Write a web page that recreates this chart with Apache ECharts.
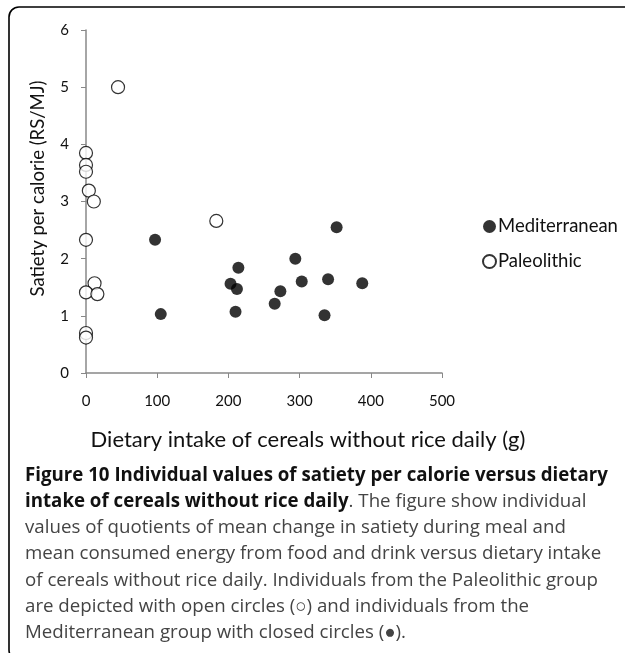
<!DOCTYPE html>
<html>
<head>
<meta charset="utf-8">
<script src="https://cdn.jsdelivr.net/npm/echarts@6/dist/echarts.min.js"></script>
<style>
  html, body { margin: 0; padding: 0; background: #fff; }
  #chart { width: 625px; height: 653px; }
</style>
</head>
<body>
<div id="chart"></div>
<script>
// cereals intake (g) vs satiety per calorie (RS/MJ)
const mediterraneanX = [97, 105, 203, 214, 212, 210, 265, 273, 294, 303, 335, 340, 352, 388]
const mediterraneanY = [2.33, 1.03, 1.56, 1.84, 1.47, 1.07, 1.21, 1.43, 2.0, 1.60, 1.01, 1.64, 2.55, 1.57]
const paleolithicX = [45, 0, 0, 0, 4, 11, 183, 0, 12, 0, 16, 0, 0]
const paleolithicY = [5.0, 3.85, 3.64, 3.52, 3.19, 3.0, 2.66, 2.33, 1.57, 1.41, 1.38, 0.70, 0.62]

const captionLines = [
  [['b', 'Figure 10 Individual values of satiety per calorie versus dietary']],
  [['b', 'intake of cereals without rice daily'], ['r', '. The figure show individual']],
  [['r', 'values of quotients of mean change in satiety during meal and']],
  [['r', 'mean consumed energy from food and drink versus dietary intake']],
  [['r', 'of cereals without rice daily. Individuals from the Paleolithic group']],
  [['r', 'are depicted with open circles (○) and individuals from the']],
  [['r', 'Mediterranean group with closed circles (●).']]
]

const chartFont = 'Lato'
const captionFont = 'Open Sans'

const pairs = (xs, ys) => xs.map((x, i) => [x, ys[i]])

const captionGraphics = captionLines.map((parts, i) => ({
  type: 'text',
  left: 25,
  top: 466 + i * 26.2,
  style: {
    text: parts.map(p => '{' + p[0] + '|' + p[1] + '}').join(''),
    rich: {
      b: { fontFamily: captionFont, fontWeight: 'bold', fontSize: 18.7, fill: '#111' },
      r: { fontFamily: captionFont, fontSize: 18.7, fill: '#444' }
    }
  }
}))

const chart = echarts.init(document.getElementById('chart'))
chart.setOption({
  animation: false,
  textStyle: { fontFamily: chartFont },
  grid: { left: 86, right: 183, top: 30, bottom: 280, containLabel: false },
  xAxis: {
    type: 'value',
    min: 0,
    max: 500,
    interval: 100,
    name: 'Dietary intake of cereals without rice daily (g)',
    nameLocation: 'middle',
    nameGap: 56,
    nameTextStyle: { fontSize: 22, color: '#111', padding: [0, 0, 0, 88] },
    axisLine: { lineStyle: { color: '#888', width: 1.5 } },
    axisTick: { show: true, length: 5, lineStyle: { color: '#888' } },
    axisLabel: { fontSize: 15, color: '#111', margin: 21 },
    splitLine: { show: false }
  },
  yAxis: {
    type: 'value',
    min: 0,
    max: 6,
    interval: 1,
    name: 'Satiety per calorie (RS/MJ)',
    nameLocation: 'middle',
    nameGap: 38,
    nameTextStyle: { fontSize: 18.5, color: '#111', padding: [0, 0, 0, 26] },
    axisLine: { show: true, lineStyle: { color: '#888', width: 1.5 } },
    axisTick: { show: true, length: 5, lineStyle: { color: '#888' } },
    axisLabel: { fontSize: 15, color: '#111', margin: 17 },
    splitLine: { show: false }
  },
  legend: {
    orient: 'vertical',
    left: 477,
    top: 212,
    itemWidth: 13,
    itemHeight: 13,
    itemGap: 16,
    textStyle: { fontSize: 18.5, color: '#111', padding: [0, 0, 0, -3] },
    data: [
      { name: 'Mediterranean', icon: 'circle' },
      { name: 'Paleolithic', icon: 'circle' }
    ]
  },
  series: [
    {
      name: 'Mediterranean',
      type: 'scatter',
      symbol: 'circle',
      symbolSize: 12,
      itemStyle: { color: '#000' },
      data: pairs(mediterraneanX, mediterraneanY)
    },
    {
      name: 'Paleolithic',
      type: 'scatter',
      symbol: 'circle',
      symbolSize: 13,
      itemStyle: { color: '#fff', borderColor: '#000', borderWidth: 1.2 },
      data: pairs(paleolithicX, paleolithicY)
    }
  ],
  graphic: [
    {
      type: 'rect',
      shape: { x: 9, y: 7, width: 700, height: 653, r: [10, 0, 0, 10] },
      style: { fill: 'none', stroke: '#000', lineWidth: 1.6 },
      silent: true
    }
  ].concat(captionGraphics)
})
</script>
</body>
</html>
